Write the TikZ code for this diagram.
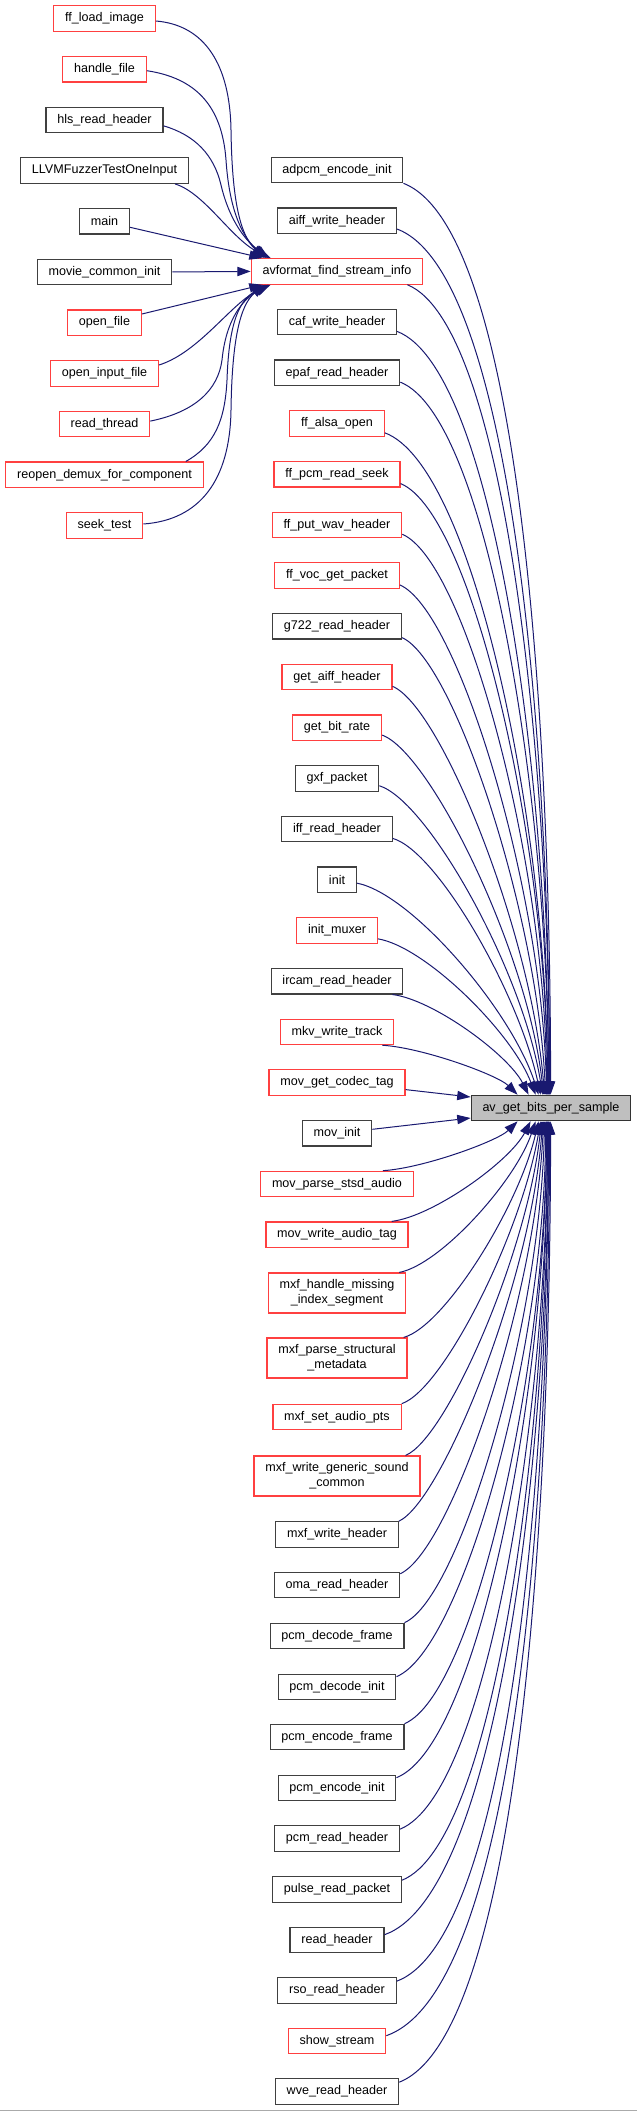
\documentclass[tikz,border=0pt]{standalone}
\usepackage{fontspec}
\setmainfont{Liberation Sans}
\usetikzlibrary{arrows.meta,calc}
\definecolor{edgec}{RGB}{25,25,112}
\definecolor{redb}{RGB}{255,64,64}
\definecolor{blackb}{RGB}{64,64,64}
\definecolor{grayf}{RGB}{191,191,191}
\definecolor{lineg}{RGB}{170,170,170}
\tikzset{
  fnbox/.style={draw=blackb, fill=white, line width=0.9pt, rectangle, inner xsep=8.5pt, inner ysep=2pt,
    minimum height=19.1pt, font=\fontsize{9.43pt}{11.25pt}\selectfont, align=center},
  fnred/.style={fnbox, draw=redb},
  fntwo/.style={minimum height=30pt},
  fnroot/.style={fnbox, fill=grayf, draw=black!80},
  callarrow/.style={draw=edgec, line width=0.75pt, -{Triangle[length=10pt,width=7pt]}}
}
\newcommand\calledge[4]{\draw[callarrow] let \p1=(#1), \p2=(#2) in (\p1) .. controls ({\x1+#3*(\x2-\x1)},{\y1+0.05*(\y2-\y1)}) and ({\x2-#4*(\x2-\x1)},{\y2-0.4*(\y2-\y1)}) .. (\p2);}
\begin{document}
\begin{tikzpicture}[x=0.75pt,y=-0.75pt]
\useasboundingbox (0,0) rectangle (637,2111);
% left column
\node[fnred] (fli) at (104.5,18.5) {ff\_load\_image};
\node[fnred] (hf) at (104.5,69.2) {handle\_file};
\node[fnbox] (hls) at (104.5,119.9) {hls\_read\_header};
\node[fnbox] (llvm) at (104.5,170.6) {LLVMFuzzerTestOneInput};
\node[fnbox] (main) at (104.5,221.3) {main};
\node[fnbox] (mci) at (104.5,272) {movie\_common\_init};
\node[fnred] (of) at (104.5,322.7) {open\_file};
\node[fnred] (oif) at (104.5,373.4) {open\_input\_file};
\node[fnred] (rt) at (104.5,424.1) {read\_thread};
\node[fnred] (reopen) at (104.5,474.8) {reopen\_demux\_for\_component};
\node[fnred] (seek) at (104.5,525.5) {seek\_test};
% right column
\node[fnbox] (adpcm) at (337,170) {adpcm\_encode\_init};
\node[fnbox] (aiff) at (337,220.7) {aiff\_write\_header};
\node[fnred] (avf) at (337,271.4) {avformat\_find\_stream\_info};
\node[fnbox] (caf) at (337,322.1) {caf\_write\_header};
\node[fnbox] (epaf) at (337,372.8) {epaf\_read\_header};
\node[fnred] (alsa) at (337,423.5) {ff\_alsa\_open};
\node[fnred] (pcmseek) at (337,474.2) {ff\_pcm\_read\_seek};
\node[fnred] (putwav) at (337,524.9) {ff\_put\_wav\_header};
\node[fnred] (voc) at (337,575.6) {ff\_voc\_get\_packet};
\node[fnbox] (g722) at (337,626.3) {g722\_read\_header};
\node[fnred] (getaiff) at (337,677) {get\_aiff\_header};
\node[fnred] (bitrate) at (337,727.7) {get\_bit\_rate};
\node[fnbox] (gxf) at (337,778.4) {gxf\_packet};
\node[fnbox] (iff) at (337,829.1) {iff\_read\_header};
\node[fnbox] (init) at (337,879.8) {init};
\node[fnred] (initmux) at (337,930.5) {init\_muxer};
\node[fnbox] (ircam) at (337,981.2) {ircam\_read\_header};
\node[fnred] (mkv) at (337,1031.9) {mkv\_write\_track};
\node[fnred] (mgct) at (337,1082.6) {mov\_get\_codec\_tag};
\node[fnbox] (movinit) at (337,1133.3) {mov\_init};
\node[fnred] (mps) at (337,1184) {mov\_parse\_stsd\_audio};
\node[fnred] (mwat) at (337,1234.7) {mov\_write\_audio\_tag};
\node[fnred,fntwo] (mxfh) at (337,1293) {mxf\_handle\_missing\\\_index\_segment};
\node[fnred,fntwo] (mxfp) at (337,1358) {mxf\_parse\_structural\\\_metadata};
\node[fnred] (mxfs) at (337,1417) {mxf\_set\_audio\_pts};
\node[fnred,fntwo] (mxfg) at (337,1476) {mxf\_write\_generic\_sound\\\_common};
\node[fnbox] (mxfw) at (337,1534.5) {mxf\_write\_header};
\node[fnbox] (oma) at (337,1585) {oma\_read\_header};
\node[fnbox] (pdf) at (337,1636) {pcm\_decode\_frame};
\node[fnbox] (pdi) at (337,1687) {pcm\_decode\_init};
\node[fnbox] (pef) at (337,1737) {pcm\_encode\_frame};
\node[fnbox] (pei) at (337,1788) {pcm\_encode\_init};
\node[fnbox] (prh) at (337,1838.5) {pcm\_read\_header};
\node[fnbox] (pulse) at (337,1889.5) {pulse\_read\_packet};
\node[fnbox] (rh) at (337,1940) {read\_header};
\node[fnbox] (rso) at (337,1990.5) {rso\_read\_header};
\node[fnred] (show) at (337,2041) {show\_stream};
\node[fnbox] (wve) at (337,2091.5) {wve\_read\_header};
% target
\node[fnroot] (av) at (551,1108) {av\_get\_bits\_per\_sample};
% left edges
\draw[callarrow] ($(fli.east)+(0,2.5)$) .. controls (205,25) and (230,65) .. (231,130) .. controls (232,200) and (240,235) .. ($(avf.north west)+(14,0)$);
\draw[callarrow] ($(hf.east)+(0,1.5)$) .. controls (195,78) and (222,105) .. (226,160) .. controls (229,205) and (240,235) .. ($(avf.north west)+(16,0)$);
\draw[callarrow] ($(hls.east)+(0,6)$) .. controls (195,135) and (214,155) .. (221,185) .. controls (228,215) and (242,238) .. ($(avf.north west)+(18,0)$);
\draw[callarrow] ($(llvm.south east)+(-14,0)$) .. controls (205,193) and (232,240) .. ($(avf.north west)+(20,0)$);
\draw[callarrow] ($(main.east)+(0,6)$) -- ($(avf.north west)+(12,0)$);
\draw[callarrow] (mci.east) -- (avf.west);
\draw[callarrow] ($(of.east)+(0,-8.7)$) -- ($(avf.south west)+(12,0)$);
\draw[callarrow] ($(oif.east)+(0,-8.4)$) .. controls (200,352) and (232,302) .. ($(avf.south west)+(20,0)$);
\draw[callarrow] ($(rt.east)+(0,-3)$) .. controls (195,412) and (218,390) .. (222,360) .. controls (226,320) and (242,300) .. ($(avf.south west)+(18,0)$);
\draw[callarrow] ($(reopen.north east)+(-18,0)$) .. controls (215,445) and (225,420) .. (227,380) .. controls (229,320) and (240,300) .. ($(avf.south west)+(16,0)$);
\draw[callarrow] ($(seek.east)+(0,-1.5)$) .. controls (200,520) and (230,480) .. (231,410) .. controls (232,340) and (240,305) .. ($(avf.south west)+(14,0)$);
% right edges, callers above
\calledge{adpcm.south east}{$(av.north west)+(80,0)$}{0.8}{0}
\calledge{$(aiff.south east)+(0,-5)$}{$(av.north west)+(79,0)$}{0.76}{0}
\calledge{$(avf.south east)+(-16,0)$}{$(av.north west)+(79,0)$}{0.7}{0}
\calledge{$(caf.south east)+(0,-4)$}{$(av.north west)+(78,0)$}{0.65}{0}
\calledge{$(epaf.south east)+(0,-4)$}{$(av.north west)+(78,0)$}{0.6}{0}
\calledge{$(alsa.south east)+(0,-4)$}{$(av.north west)+(77,0)$}{0.55}{0}
\calledge{$(pcmseek.south east)+(0,-4)$}{$(av.north west)+(77,0)$}{0.5}{0}
\calledge{$(putwav.south east)+(0,-4)$}{$(av.north west)+(76,0)$}{0.45}{0}
\calledge{$(voc.south east)+(0,-4)$}{$(av.north west)+(76,0)$}{0.4}{0.03}
\calledge{$(g722.south east)+(0,-2)$}{$(av.north west)+(75,0)$}{0.36}{0.06}
\calledge{$(getaiff.south east)+(0,-4)$}{$(av.north west)+(74,0)$}{0.32}{0.09}
\calledge{$(bitrate.south east)+(0,-6)$}{$(av.north west)+(73,0)$}{0.3}{0.1}
\calledge{$(gxf.south east)+(0,-6)$}{$(av.north west)+(72,0)$}{0.3}{0.12}
\calledge{$(iff.south east)+(0,-4)$}{$(av.north west)+(70,0)$}{0.3}{0.15}
\calledge{$(init.south east)+(0,-10)$}{$(av.north west)+(68,0)$}{0.3}{0.15}
\calledge{$(initmux.south east)+(0,-5)$}{$(av.north west)+(65,0)$}{0.3}{0.15}
\calledge{$(ircam.south east)+(-11,0)$}{$(av.north west)+(58,0)$}{0.3}{0.15}
\calledge{$(mkv.south east)+(-12,0)$}{$(av.north west)+(47,0)$}{0.3}{0.15}
\draw[callarrow] ($(mgct.east)+(0,7)$) -- ($(av.west)+(0,-11)$);
% callers below
\draw[callarrow] ($(movinit.east)+(0,-4)$) -- ($(av.west)+(0,10)$);
\calledge{$(mps.north east)+(-31,0)$}{$(av.south west)+(47,0)$}{0.3}{0.15}
\calledge{$(mwat.north east)+(-17,0)$}{$(av.south west)+(60,0)$}{0.3}{0.15}
\calledge{$(mxfh.north east)+(-7,0)$}{$(av.south west)+(65,0)$}{0.3}{0.15}
\calledge{$(mxfp.north east)+(-4,0)$}{$(av.south west)+(68,0)$}{0.3}{0.15}
\calledge{mxfs.north east}{$(av.south west)+(70,0)$}{0.3}{0.14}
\calledge{$(mxfg.north east)+(-15,0)$}{$(av.south west)+(71,0)$}{0.3}{0.11}
\calledge{mxfw.north east}{$(av.south west)+(72,0)$}{0.3}{0.08}
\calledge{$(oma.north east)+(0,2)$}{$(av.south west)+(73,0)$}{0.35}{0.06}
\calledge{pdf.north east}{$(av.south west)+(74,0)$}{0.4}{0.03}
\calledge{$(pdi.north east)+(0,3)$}{$(av.south west)+(75,0)$}{0.45}{0}
\calledge{pef.north east}{$(av.south west)+(76,0)$}{0.5}{0}
\calledge{$(pei.north east)+(0,3)$}{$(av.south west)+(76,0)$}{0.55}{0}
\calledge{$(prh.north east)+(0,4)$}{$(av.south west)+(77,0)$}{0.6}{0}
\calledge{$(pulse.north east)+(0,4)$}{$(av.south west)+(77,0)$}{0.65}{0}
\calledge{$(rh.north east)+(0,8)$}{$(av.south west)+(78,0)$}{0.7}{0}
\calledge{$(rso.north east)+(0,4)$}{$(av.south west)+(78,0)$}{0.75}{0}
\calledge{$(show.north east)+(0,8)$}{$(av.south west)+(79,0)$}{0.8}{0}
\calledge{$(wve.north east)+(0,4)$}{$(av.south west)+(80,0)$}{0.8}{0}
% bottom rule
\draw[lineg, line width=0.75pt] (0,2110) -- (637,2110);
\end{tikzpicture}
\end{document}
